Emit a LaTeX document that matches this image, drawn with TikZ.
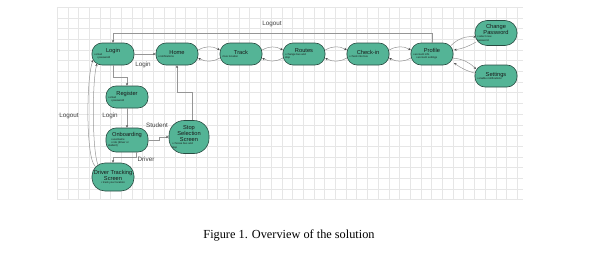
\documentclass[tikz,border=0pt]{standalone}
\usepackage{fontspec}
\setmainfont{Liberation Sans}
\newfontfamily\capfont{Liberation Serif}
\usetikzlibrary{arrows.meta,calc}
\definecolor{nodefill}{RGB}{84,180,150}
\definecolor{nodedraw}{RGB}{40,75,65}
\definecolor{gridc}{RGB}{230,230,230}
\definecolor{linec}{RGB}{150,150,150}
\newcommand{\ttl}[1]{{\fontsize{5.7}{6.2}\selectfont #1\par}}
\newcommand{\bul}[1]{{\fontsize{2.7}{3.2}\selectfont\raggedright #1\par}}
\tikzset{
  state/.style={draw=nodedraw, line width=0.6pt, fill=nodefill, rounded corners=10pt,
    inner sep=0pt, minimum width=42pt, minimum height=22pt, text=black!90},
  conn/.style={draw=linec, line width=0.5pt, -{Stealth[length=2.6pt,width=2.2pt,color=black!70]}},
  lbl/.style={font=\fontsize{6.3}{7}\selectfont, text=black!75, inner sep=0pt},
}
\begin{document}
\begin{tikzpicture}[x=1pt,y=-1pt]
\useasboundingbox (0,0) rectangle (601,257);
% grid
\foreach \i in {0,...,43} \draw[gridc, line width=0.4pt] ({57+\i*10.7},7) -- ({57+\i*10.7},200);
\foreach \j in {0,...,18} \draw[gridc, line width=0.4pt] (57,{7+\j*10.7}) -- (523,{7+\j*10.7});

% nodes
\node[state] (login) at (113,54) {\parbox{38pt}{\centering\ttl{Login}\bul{• email\\\hspace*{3pt}• password}}};
\node[state] (home) at (177,54) {\parbox{38pt}{\centering\ttl{Home}\bul{• notifications}}};
\node[state] (track) at (241,54) {\parbox{38pt}{\centering\ttl{Track}\bul{• bus location}}};
\node[state] (routes) at (304,54) {\parbox{38pt}{\centering\ttl{Routes}\bul{• change bus and\\stop}}};
\node[state] (checkin) at (368,54) {\parbox{38pt}{\centering\ttl{Check-in}\bul{• check into bus}}};
\node[state] (profile) at (432,54) {\parbox{38pt}{\centering\ttl{Profile}\bul{• account info\\\hspace*{3pt}• account settings}}};
\node[state, minimum height=25pt, rounded corners=12pt] (chpw) at (496,33) {\parbox{38pt}{\centering\ttl{Change\\Password}\bul{• select new\\password}}};
\node[state] (settings) at (496,76) {\parbox{38pt}{\centering\ttl{Settings}\bul{• enable notifications}}};
\node[state] (register) at (127,97) {\parbox{38pt}{\centering\ttl{Register}\bul{• email\\\hspace*{3pt}• password}}};
\node[state, minimum height=24pt] (onboard) at (127,140) {\parbox{38pt}{\centering\ttl{Onboarding}\bul{\hspace*{3pt}• username\\\hspace*{3pt}• role (driver or\\student)}}};
\node[state, minimum width=40pt, minimum height=33pt, rounded corners=15pt] (stop) at (189,137) {\parbox{34pt}{\centering\ttl{Stop\\Selection\\Screen}\bul{• choose bus and\\stop}}};
\node[state, minimum height=28pt, rounded corners=13pt] (driver) at (113,177) {\parbox{42pt}{\centering\ttl{Driver Tracking\\Screen}\bul{\centering• track your location}}};

% labels
\node[lbl] (lLogoutTop) at (272,24) {Logout};
\node[lbl] (lLogin1) at (143,65) {Login};
\node[lbl] (lLogoutLeft) at (69,116) {Logout};
\node[lbl] (lLogin2) at (110,116) {Login};
\node[lbl] (lStudent) at (157,125) {Student};
\node[lbl] (lDriver) at (146,159) {Driver};
\node[font=\capfont\fontsize{12.3}{14}\selectfont, inner sep=0pt] (caption) at (289,235) {Figure 1. Overview of the solution};

% connectors
\coordinate (topc) at (113,33);
\draw[conn] (profile.north) |- (topc) -- (login.north);
\draw[conn] (login) -- (home);
\draw[conn] (login.south) -- ++(0,12) -| (register.north);
\draw[conn] (register) -- (onboard);
\draw[conn] (onboard.east) -- ++(11,0) |- (stop.west);
\draw[conn] ($(onboard.south)+(9,0)$) -- ++(0,5) -| (driver.north);
\draw[conn] ($(stop.north)+(3,0)$) -- ++(0,-28) -| (home.south);

% left curves
\coordinate (dA) at (95,166);
\coordinate (dB) at (98,165);
\coordinate (lA) at (93,60);
\coordinate (lB) at (97,63.5);
\draw[conn] (dA) .. controls (86,158) and (86,80) .. (lA);
\draw[conn] (dB) .. controls (92,150) and (92,82) .. (lB);

% horizontal pairs
\foreach \a/\b in {home/track, track/routes, routes/checkin, checkin/profile}{
  \draw[conn] ($(\a.east)+(0,-4)$) to[bend left=30] ($(\b.west)+(0,-4)$);
  \draw[conn] ($(\b.west)+(0,4)$) to[bend left=30] ($(\a.east)+(0,4)$);
}
% profile side
\coordinate (p1) at (451,45.5);
\coordinate (c1) at (476,37);
\coordinate (c2) at (476,42);
\coordinate (p2) at (454,50);
\coordinate (p3) at (452,58);
\coordinate (s1) at (476,69);
\coordinate (s2) at (476,73.5);
\coordinate (p4) at (454,63);
\draw[conn] (p1) to[bend left=25] (c1);
\draw[conn] (c2) to[bend left=10] (p2);
\draw[conn] (p3) to[bend left=20] (s1);
\draw[conn] (s2) to[bend left=10] (p4);
\end{tikzpicture}
\end{document}
